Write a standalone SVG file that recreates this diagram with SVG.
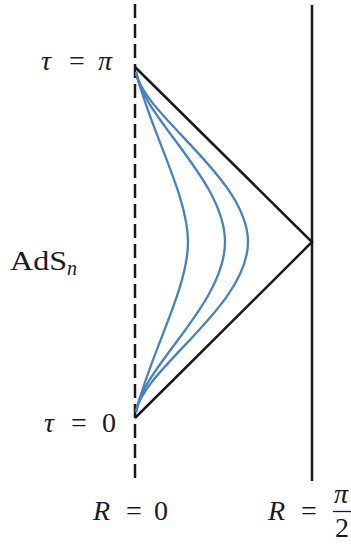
<svg xmlns="http://www.w3.org/2000/svg" width="351" height="544" viewBox="0 0 351 544">
<style>
.ln{fill:none;stroke:#1a1a1a;stroke-width:2.5}
.dash{stroke-dasharray:14 6}
.geo{fill:none;stroke:#4682c0;stroke-width:2.3}
.t{font-family:"Liberation Serif","DejaVu Serif",serif;font-size:28px;fill:#1a1a1a}
.i{font-style:italic}
.sub{font-size:20px}
</style>
<rect width="351" height="544" fill="#ffffff"/>
<g id="boundaries">
<line class="ln dash" x1="135" y1="4" x2="135" y2="482"/>
<line class="ln" x1="312" y1="5" x2="312" y2="481"/>
</g>
<g id="lightcone">
<polyline class="ln" points="135,67 312,242 135,418"/>
</g>
<g id="geodesics">
<path class="geo" d="M136,72 C150,130 188,195 188,242 C188,289 150,354 136,412"/>
<path class="geo" d="M136,72 C143,118 225,180 225,242 C225,304 143,366 136,412"/>
<path class="geo" d="M136,72 C143,115 248,178 248,242 C248,306 143,369 136,412"/>
</g>
<g id="labels">
<text class="t"><tspan class="i" x="41" y="70">τ</tspan><tspan x="69" y="70">=</tspan><tspan class="i" x="98" y="70">π</tspan></text>
<text class="t"><tspan class="i" x="44" y="432">τ</tspan><tspan x="71" y="432">=</tspan><tspan x="102" y="432">0</tspan></text>
<text class="t" x="10" y="270" textLength="57" lengthAdjust="spacingAndGlyphs">AdS</text>
<text class="t i sub" x="67" y="275">n</text>
<text class="t"><tspan class="i" x="93" y="520">R</tspan><tspan x="126" y="520">=</tspan><tspan x="154" y="520">0</tspan></text>
<text class="t"><tspan class="i" x="268" y="520">R</tspan><tspan x="301" y="520">=</tspan><tspan class="i" x="334" y="503">π</tspan><tspan x="335" y="537">2</tspan></text>
<line x1="333" y1="511.5" x2="351" y2="511.5" stroke="#1a1a1a" stroke-width="1.3"/>
</g>
</svg>
